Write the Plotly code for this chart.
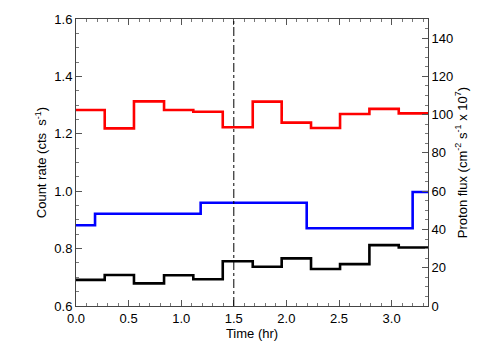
import plotly.graph_objects as go

# Bin edges (hours)
count_edges = [0.0, 0.273, 0.551, 0.837, 1.115, 1.395, 1.680, 1.955, 2.234, 2.510, 2.789, 3.068, 3.346]
red_rate = [1.283, 1.219, 1.313, 1.283, 1.277, 1.223, 1.312, 1.239, 1.220, 1.269, 1.287, 1.271]
black_rate = [0.691, 0.708, 0.679, 0.707, 0.693, 0.756, 0.737, 0.766, 0.729, 0.746, 0.812, 0.804]

proton_edges = [0.0, 0.181, 1.185, 2.193, 3.200, 3.346]
proton_flux = [42.2, 48.2, 54.0, 40.6, 59.6]

marker_time = 1.5

x_ticks = [0.0, 0.5, 1.0, 1.5, 2.0, 2.5, 3.0]
y_left_ticks = [0.6, 0.8, 1.0, 1.2, 1.4, 1.6]
y_right_ticks = [0, 20, 40, 60, 80, 100, 120, 140]


def step(edges, vals):
    return list(edges), list(vals) + [vals[-1]]


FONT = "Liberation Sans, Arial, Helvetica, sans-serif"

fig = go.Figure()
xr, yr = step(count_edges, red_rate)
fig.add_trace(go.Scatter(x=xr, y=yr, mode="lines", line=dict(color="#ff0000", width=2.6, shape="hv"), yaxis="y"))
xb, yb = step(count_edges, black_rate)
fig.add_trace(go.Scatter(x=xb, y=yb, mode="lines", line=dict(color="#000000", width=2.6, shape="hv"), yaxis="y"))
xp, yp = step(proton_edges, proton_flux)
fig.add_trace(go.Scatter(x=xp, y=yp, mode="lines", line=dict(color="#0000ff", width=2.6, shape="hv"), yaxis="y2"))

fig.add_shape(type="line", xref="x", yref="paper", x0=marker_time, x1=marker_time, y0=0, y1=1,
              line=dict(color="black", width=1, dash="dashdot"))

axis_common = dict(
    showgrid=False, zeroline=False, showline=True, linecolor="#444444", linewidth=1,
    ticks="inside", tickcolor="#555555", tickwidth=1, ticklen=6, automargin=False,
    tickfont=dict(family=FONT, size=13, color="black"),
)

fig.update_layout(
    width=504, height=360,
    margin=dict(l=76, r=76, t=19, b=54),
    paper_bgcolor="white", plot_bgcolor="white",
    showlegend=False,
    font=dict(family=FONT, size=13, color="black"),
    xaxis=dict(
        range=[0, count_edges[-1]], tickvals=x_ticks, tickformat=".1f", mirror="ticks",
        minor=dict(dtick=0.1, ticks="inside", ticklen=3, tickcolor="#777777"),
        title=dict(text="Time (hr)", standoff=2, font=dict(family=FONT, size=13)),
        **axis_common,
    ),
    yaxis=dict(
        range=[0.6, 1.6], tickvals=y_left_ticks, tickformat=".1f",
        minor=dict(dtick=0.05, ticks="inside", ticklen=3, tickcolor="#777777"),
        title=dict(text="Count rate (cts\u00a0 s<sup>-1</sup>)", standoff=4, font=dict(family=FONT, size=13)),
        **axis_common,
    ),
    yaxis2=dict(
        range=[0, 150], tickvals=y_right_ticks, overlaying="y", side="right", anchor="x",
        minor=dict(dtick=5, ticks="inside", ticklen=3, tickcolor="#777777"),
        title=dict(text="Proton flux (cm<sup>-2</sup> s<sup>-1</sup> x 10<sup>7</sup>)", standoff=4, font=dict(family=FONT, size=13)),
        **axis_common,
    ),
)

fig.write_html("out.html", config={"displayModeBar": False},
               post_script="document.body.style.margin='0';")
